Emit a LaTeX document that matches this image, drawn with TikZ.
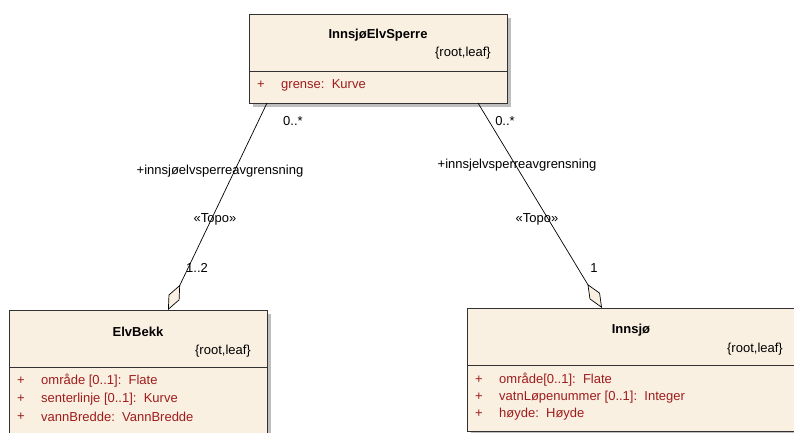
\documentclass[tikz,border=0pt]{standalone}
\usepackage{fontspec}
\setmainfont{Liberation Sans}
\usetikzlibrary{arrows.meta,shadows}

\definecolor{krem}{RGB}{250,240,226}
\definecolor{attrrod}{RGB}{158,28,28}
\definecolor{skygge}{RGB}{190,190,190}
\definecolor{kant}{RGB}{50,50,50}

\tikzset{
	klasse/.style={draw=kant,fill=krem,line width=0.8pt,anchor=north west,inner sep=0pt,
		drop shadow={shadow xshift=4pt,shadow yshift=-4pt,fill=skygge,opacity=1}},
	tittel/.style={font=\fontsize{13}{15}\selectfont\bfseries,inner sep=0pt},
	merke/.style={font=\fontsize{13}{15}\selectfont,inner sep=0pt,anchor=east},
	attr/.style={font=\fontsize{13}{15}\selectfont,text=attrrod,inner sep=0pt,anchor=west},
	lbl/.style={font=\fontsize{13}{15}\selectfont,inner sep=0pt},
	assos/.style={draw=black,line width=0.7pt,-{Diamond[length=28pt,width=12pt,fill=krem]}}
}

\begin{document}
\begin{tikzpicture}[x=1pt,y=-1pt]
	\useasboundingbox (0,0) rectangle (794,432);
	% klasser
	\node[klasse,minimum width=258pt,minimum height=89pt] (isp) at (249,14) {};
	\draw[kant,line width=0.8pt] (249,71) -- (507,71);
	\node[tittel] (ispnavn) at (378,35) {InnsjøElvSperre};
	\node[merke] (isptag) at (491,53) {\{root,leaf\}};
	\node[attr,anchor=center] (ispp1) at (261,85) {+};
	\node[attr] (ispa1) at (281,85) {grense:\ \ Kurve};

	\node[klasse,minimum width=258pt,minimum height=140pt] (elv) at (9,310) {};
	\draw[kant,line width=0.8pt] (9,367) -- (267,367);
	\node[tittel] (elvnavn) at (138,332) {ElvBekk};
	\node[merke] (elvtag) at (251,351) {\{root,leaf\}};
	\node[attr,anchor=center] (elvp1) at (21,381) {+};
	\node[attr,anchor=center] (elvp2) at (21,399) {+};
	\node[attr,anchor=center] (elvp3) at (21,417) {+};
	\node[attr] (elva1) at (41,381) {område [0..1]:\ \ Flate};
	\node[attr] (elva2) at (41,399) {senterlinje [0..1]:\ \ Kurve};
	\node[attr] (elva3) at (41,417) {vannBredde:\ \ VannBredde};

	\node[klasse,minimum width=329pt,minimum height=123pt] (inn) at (467,308) {};
	\draw[kant,line width=0.8pt] (467,365) -- (796,365);
	\node[tittel] (innnavn) at (631,330) {Innsjø};
	\node[merke] (inntag) at (783,349) {\{root,leaf\}};
	\node[attr,anchor=center] (innp1) at (479,380) {+};
	\node[attr,anchor=center] (innp2) at (479,397) {+};
	\node[attr,anchor=center] (innp3) at (479,414) {+};
	\node[attr] (inna1) at (499,380) {område[0..1]:\ \ Flate};
	\node[attr] (inna2) at (499,397) {vatnLøpenummer [0..1]:\ \ Integer};
	\node[attr] (inna3) at (499,414) {høyde:\ \ Høyde};

	% assosiasjoner
	\coordinate (fra1) at (267,103);
	\coordinate (til1) at (168,310);
	\coordinate (fra2) at (478,103);
	\coordinate (til2) at (602,308);
	\draw[assos] (fra1) -- (til1);
	\draw[assos] (fra2) -- (til2);

	\node[lbl] (m1a) at (293,121) {0..*};
	\node[lbl] (r1) at (220,171) {+innsjøelvsperreavgrensning};
	\node[lbl] (s1) at (215,219) {«Topo»};
	\node[lbl] (m1b) at (197,268) {1..2};

	\node[lbl] (m2a) at (505,121) {0..*};
	\node[lbl] (r2) at (517,165) {+innsjelvsperreavgrensning};
	\node[lbl] (s2) at (537,219) {«Topo»};
	\node[lbl] (m2b) at (594,268) {1};
\end{tikzpicture}
\end{document}
